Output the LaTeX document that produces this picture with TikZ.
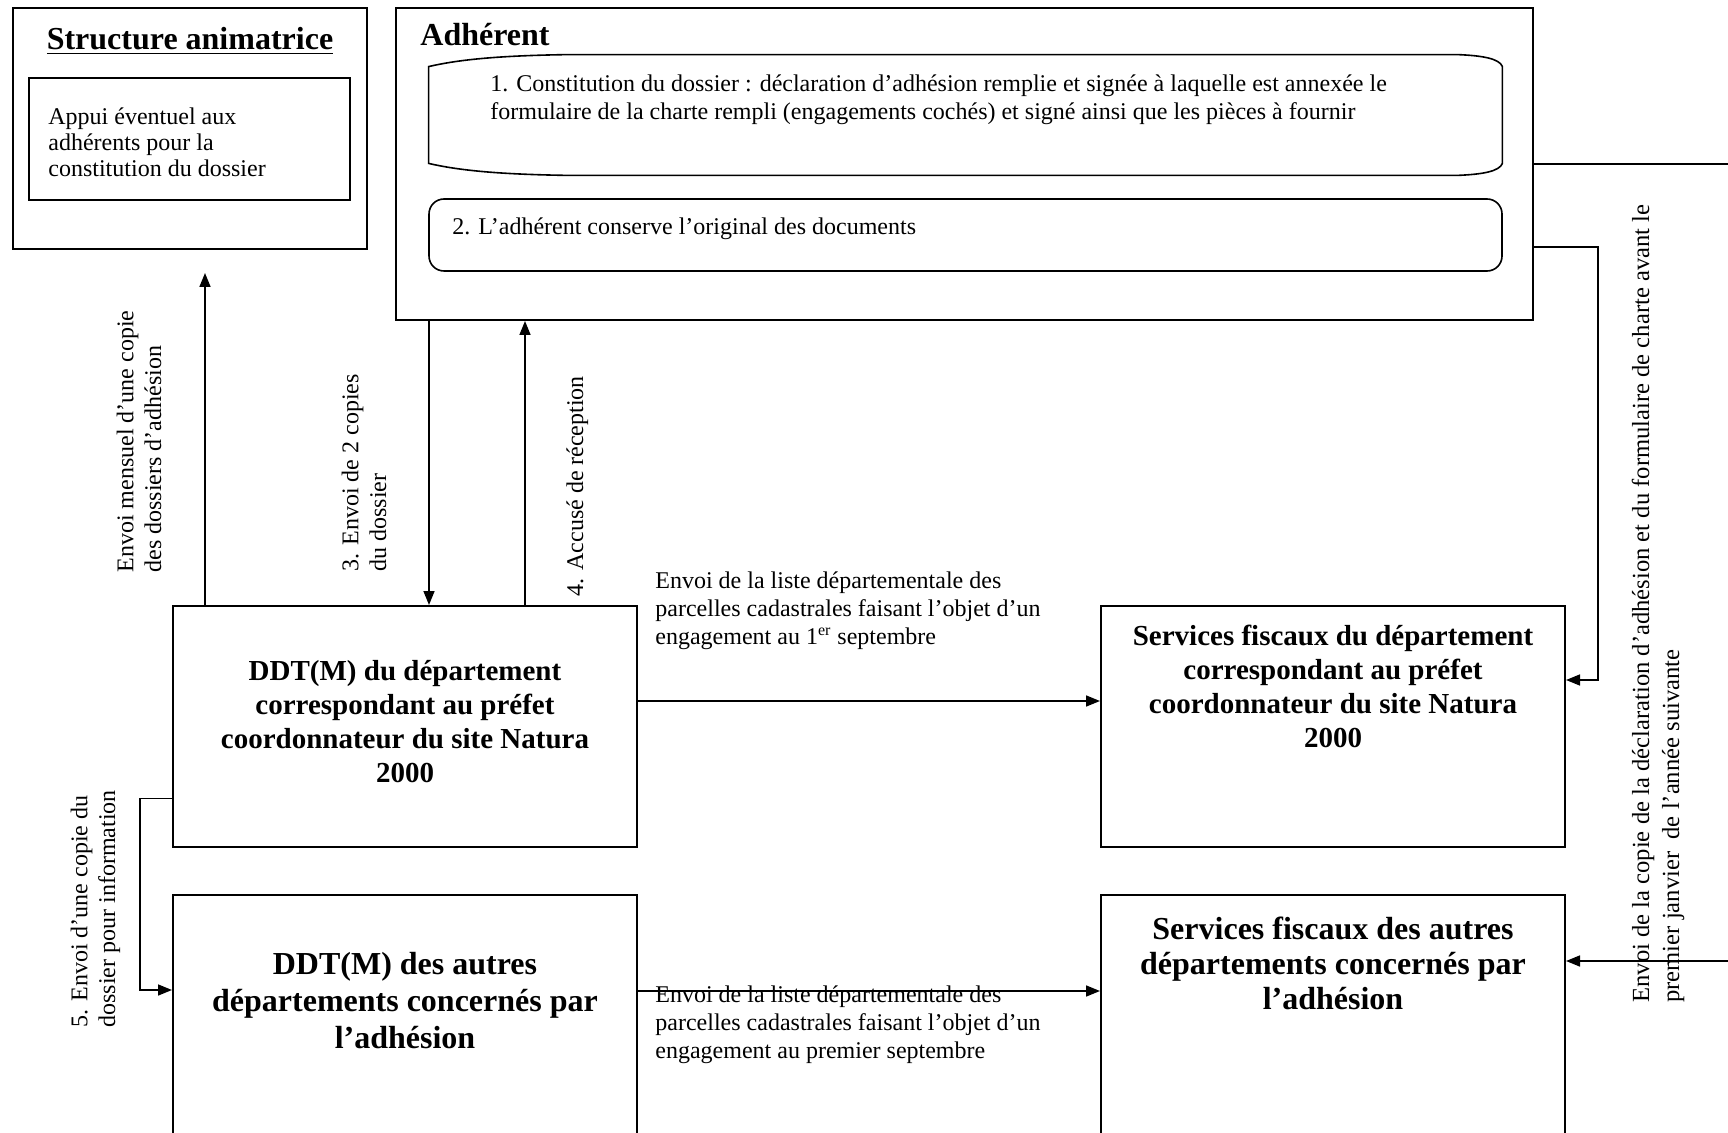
\documentclass[tikz,border=0pt]{standalone}
\usepackage{fontspec}
\setmainfont{Liberation Serif}
\usetikzlibrary{arrows.meta,calc}

\begin{document}
\begin{tikzpicture}[%
  x=0.5pt, y=-0.5pt,
  boite/.style={draw, line width=1pt, inner sep=0pt},
  etape/.style={draw, line width=0.8pt, rounded corners=7.5pt, inner sep=0pt},
  titre/.style={font=\fontsize{16}{18.5}\selectfont\bfseries, align=center, anchor=base, inner sep=0pt},
  titremoyen/.style={font=\fontsize{14.5}{17}\selectfont\bfseries, align=center, anchor=base, inner sep=0pt},
  texte/.style={font=\fontsize{12}{13.8}\selectfont, align=left, anchor=base west, inner sep=0pt},
  vertical/.style={texte, rotate=90},
  fleche/.style={line width=0.8pt, -{Triangle[length=7pt,width=5.5pt]}},
  ligne/.style={line width=0.8pt}]

\useasboundingbox (0,0) rectangle (1728,1133);
\clip (0,0) rectangle (1728,1133);

% boites
\node[boite, minimum width=177pt, minimum height=120.5pt] (structure) at (190,128.5) {};
\node[boite, minimum width=160.5pt, minimum height=61pt] (appui) at (189.5,139) {};
\node[boite, minimum width=568.5pt, minimum height=156pt] (adherent) at (964.5,164) {};
\node[inner sep=0pt, minimum width=536.5pt, minimum height=60pt] (etape1) at (965.5,115) {};
\node[etape, minimum width=536.5pt, minimum height=36pt] (etape2) at (965.5,235) {};
\node[boite, minimum width=232pt, minimum height=120.5pt] (ddt1) at (405,726.5) {};
\node[boite, minimum width=232pt, minimum height=120.5pt] (ddt2) at (405,1015.5) {};
\node[boite, minimum width=232pt, minimum height=120.5pt] (sf1) at (1333,726.5) {};
\node[boite, minimum width=232pt, minimum height=120.5pt] (sf2) at (1333,1015.5) {};

\draw[ligne] ($(etape1.south west)+(0,-12)$) -- ($(etape1.north west)+(0,12)$)
  .. controls ($(etape1.north west)+(30,5)$) and ($(etape1.north west)+(70,1)$) .. ($(etape1.north west)+(140,0)$)
  -- ($(etape1.north east)+(-45,0)$)
  .. controls ($(etape1.north east)+(-20,1)$) and ($(etape1.north east)+(-3,4)$) .. ($(etape1.north east)+(0,12)$)
  -- ($(etape1.south east)+(0,-12)$)
  .. controls ($(etape1.south east)+(-3,-4)$) and ($(etape1.south east)+(-20,-1)$) .. ($(etape1.south east)+(-45,0)$)
  -- ($(etape1.south west)+(140,0)$)
  .. controls ($(etape1.south west)+(70,-1)$) and ($(etape1.south west)+(30,-5)$) .. cycle;

% textes des boites
\node[font=\fontsize{16}{18.5}\selectfont\bfseries, anchor=base, inner sep=0pt] (tstructure) at (190,50) {\underline{Structure animatrice}};
\node[texte, font=\fontsize{12}{13}\selectfont] (tappui) at (48,177) {Appui éventuel aux\\adhérents pour la\\constitution du dossier};
\node[font=\fontsize{16}{18.5}\selectfont\bfseries, anchor=base west, inner sep=0pt] (tadherent) at (420,46) {Adhérent};
\node[texte, font=\fontsize{12}{14}\selectfont] (tetape1) at (490,120) {1. Constitution du dossier : déclaration d’adhésion remplie et signée à laquelle est annexée le\\formulaire de la charte rempli (engagements cochés) et signé ainsi que les pièces à fournir};
\node[texte] (tetape2) at (452,235) {2. L’adhérent conserve l’original des documents};
\node[titremoyen] (tddt1) at (405,782) {DDT(M) du département\\correspondant au préfet\\coordonnateur du site Natura\\2000};
\node[titremoyen] (tsf1) at (1333,747) {Services fiscaux du département\\correspondant au préfet\\coordonnateur du site Natura\\2000};
\node[titre] (tddt2) at (405,1048) {DDT(M) des autres\\départements concernés par\\l’adhésion};
\node[titre, font=\fontsize{16}{17.5}\selectfont\bfseries] (tsf2) at (1333,1009) {Services fiscaux des autres\\départements concernés par\\l’adhésion};

% libelles des fleches
\node[vertical] (lmensuel) at (161,573) {Envoi mensuel d’une copie\\des dossiers d’adhésion};
\node[vertical] (lcopies) at (386,572) {3. Envoi de 2 copies\\du dossier};
\node[vertical] (laccuse) at (583,597) {4. Accusé de réception};
\node[vertical] (linfo) at (115,1028) {5. Envoi d’une copie du\\dossier pour information};
\node[vertical, font=\fontsize{12.3}{15}\selectfont] (ljanvier) at (1679,1003) {Envoi de la copie de la déclaration d’adhésion et du formulaire de charte avant le\\premier janvier\ \ de l’année suivante};
\node[texte] (lliste1) at (655,644) {Envoi de la liste départementale des\\parcelles cadastrales faisant l’objet d’un\\engagement au 1\textsuperscript{er} septembre};
\node[texte] (lliste2) at (655,1058) {Envoi de la liste départementale des\\parcelles cadastrales faisant l’objet d’un\\engagement au premier septembre};

% fleches
\coordinate (versstructure) at (205,273);
\draw[fleche] (ddt1.north -| versstructure) -- (versstructure);
\draw[fleche] ([xshift=12pt]adherent.south -| ddt1.north) -- ([xshift=12pt]ddt1.north);
\draw[fleche] ([xshift=60pt]ddt1.north) -- ([xshift=60pt]adherent.south -| ddt1.north);
\draw[fleche] ([yshift=12.75pt]ddt1.east) -- ([yshift=12.75pt]sf1.west);
\draw[fleche] ([yshift=12.25pt]ddt2.east) -- ([yshift=12.25pt]sf2.west);
\draw[fleche] ([yshift=-36pt]ddt1.west) -- ++(-16pt,0) |- ([yshift=12.75pt]ddt2.west);
\draw[fleche] (adherent.east) -- ++(120pt,0) |- ([yshift=27.25pt]sf2.east);
\draw[fleche] ([yshift=-41.5pt]adherent.east) -- ++(32pt,0) |- ([yshift=23.25pt]sf1.east);
\end{tikzpicture}
\end{document}
